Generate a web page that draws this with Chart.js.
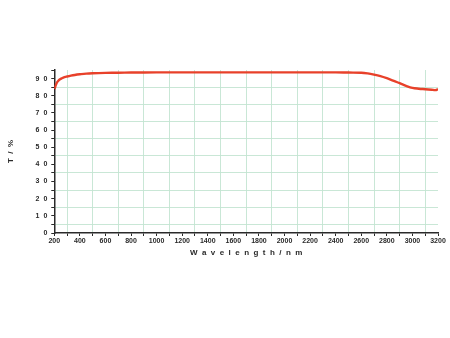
<!DOCTYPE html>
<html>
<head>
<meta charset="utf-8">
<script src="https://cdn.jsdelivr.net/npm/chart.js@4.4.1/dist/chart.umd.min.js"></script>
<style>
  html, body { margin: 0; padding: 0; background: #fff; }
  #framus { display: block; }
</style>
</head>
<body>
<canvas id="framus" width="450" height="338"></canvas>
<script>
// transmittance spectrum, values
const wavelength = [200, 205, 210, 220, 230, 245, 260, 280, 300, 330, 360, 400, 450, 500, 600, 700, 800, 1000, 1200, 1400, 1600, 1800, 2000, 2200, 2400, 2500, 2600, 2650, 2700, 2750, 2800, 2850, 2900, 2950, 3000, 3050, 3100, 3150, 3180, 3200];
const transmit = [84.0, 84.6, 85.8, 87.6, 88.6, 89.6, 90.2, 90.8, 91.2, 91.7, 92.1, 92.5, 92.9, 93.1, 93.3, 93.4, 93.5, 93.6, 93.6, 93.6, 93.6, 93.6, 93.6, 93.6, 93.6, 93.5, 93.4, 93.0, 92.3, 91.4, 90.2, 88.8, 87.3, 85.8, 84.6, 84.1, 83.8, 83.5, 83.3, 83.8];

const xTitle = 'W  a  v  e  l  e  n  g  t  h  /  n  m';
const yTitle = 'T  /  %';

const gridGreen = 'rgba(195, 228, 210, 0.9)';
const axisDark = '#2a2a2a';
const labelFont = { family: 'Liberation Sans', size: 7, weight: 'bold' };
const titleFont = { family: 'Liberation Sans', size: 8, weight: 'bold' };

const ctx = document.getElementById('framus');
new Chart(ctx, {
  type: 'line',
  data: {
    datasets: [{
      data: wavelength.map((w, i) => ({ x: w, y: transmit[i] })),
      borderColor: '#e8412a',
      borderWidth: 2.4,
      pointRadius: 0,
      tension: 0.4,
      fill: false
    }]
  },
  options: {
    responsive: false,
    animation: false,
    layout: { padding: { top: 70, right: 12, bottom: 76, left: 2 } },
    plugins: { legend: { display: false }, tooltip: { enabled: false } },
    scales: {
      x: {
        type: 'linear',
        min: 200,
        max: 3200,
        ticks: {
          stepSize: 100,
          autoSkip: false,
          maxRotation: 0,
          padding: 1,
          color: axisDark,
          font: labelFont,
          callback: v => (v % 200 === 0 ? String(v) : '')
        },
        grid: {
          color: c => (c.tick && c.tick.value % 200 === 100 ? gridGreen : 'rgba(0,0,0,0)'),
          lineWidth: 1,
          tickColor: axisDark,
          tickLength: 3
        },
        border: { color: axisDark, width: 1.5 },
        title: { display: true, text: xTitle, color: axisDark, font: titleFont, padding: { top: 2 } }
      },
      y: {
        min: 0,
        max: 95,
        ticks: {
          stepSize: 5,
          autoSkip: false,
          padding: 4,
          color: axisDark,
          font: labelFont,
          callback: v => (v % 10 === 0 ? String(v).split('').join('  ') : '')
        },
        grid: {
          color: c => (c.tick && c.tick.value % 10 === 5 && c.tick.value < 90 ? gridGreen : 'rgba(0,0,0,0)'),
          lineWidth: 1,
          tickColor: axisDark,
          tickLength: 3
        },
        border: { color: axisDark, width: 1.5 },
        title: { display: true, text: yTitle, color: axisDark, font: titleFont, padding: { bottom: 16 } }
      }
    }
  }
});
</script>
</body>
</html>
